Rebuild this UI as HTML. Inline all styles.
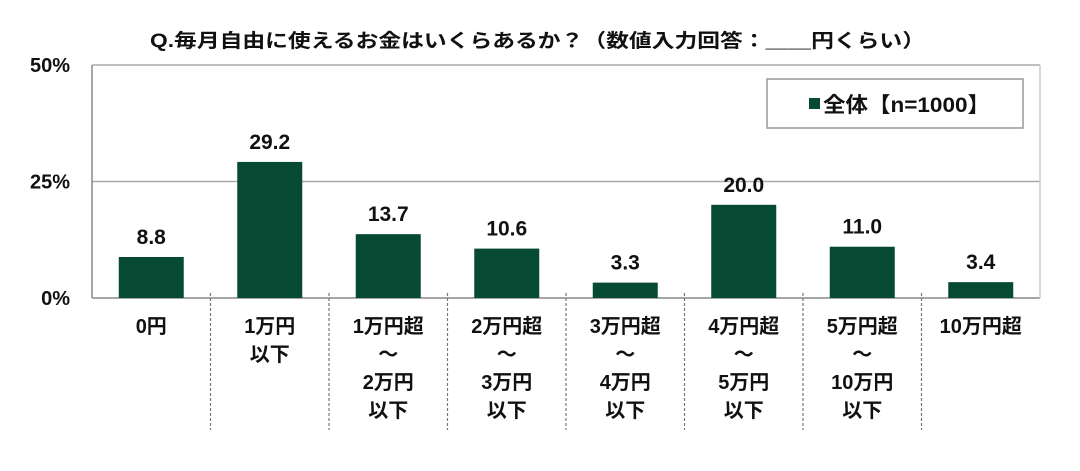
<!DOCTYPE html>
<html><head><meta charset="utf-8"><style>
body{margin:0;background:#fff;width:1080px;height:466px;overflow:hidden;font-family:"Liberation Sans","Noto Sans CJK JP",sans-serif;}
</style></head><body>
<svg width="1080" height="466" id="chart" xmlns="http://www.w3.org/2000/svg">
<text x="150" y="47" font-size="19" font-weight="bold" fill="#111" textLength="775" lengthAdjust="spacingAndGlyphs">Q.毎月自由に使えるお金はいくらあるか？（数値入力回答：＿＿円くらい）</text>
<g id="grid"></g><g id="bars"></g><g id="labels"></g>
<g>
<rect x="767" y="79" width="256" height="49" fill="#fff" stroke="#999" stroke-width="1.5"/>
<rect x="809" y="98" width="11" height="11" fill="#064a33"/>
<text x="823" y="112" font-size="21" font-weight="bold" fill="#111" textLength="167" lengthAdjust="spacingAndGlyphs">全体【n=1000】</text>
</g>
</svg>
<script>
const categories=[["0円"],["1万円","以下"],["1万円超","～","2万円","以下"],["2万円超","～","3万円","以下"],["3万円超","～","4万円","以下"],["4万円超","～","5万円","以下"],["5万円超","～","10万円","以下"],["10万円超"]];
const values=[8.8,29.2,13.7,10.6,3.3,20.0,11.0,3.4];
const valueLabels=["8.8","29.2","13.7","10.6","3.3","20.0","11.0","3.4"];
const ticks=[0,25,50];
const tickLabels=["0%","25%","50%"];
const NS="http://www.w3.org/2000/svg";
const L=92,R=1040,T=65,B=298,yMax=50;
const y=v=>B-(v/yMax)*(B-T);
const bw=(R-L)/categories.length;
const x=i=>L+bw*i;
function mk(tag,attrs,parent,txt){const e=document.createElementNS(NS,tag);for(const k in attrs)e.setAttribute(k,attrs[k]);if(txt!==undefined)e.textContent=txt;document.getElementById(parent).appendChild(e);return e;}
ticks.forEach((t,i)=>{
 const g=mk('line',{x1:L,x2:R,y1:y(t),y2:y(t),stroke:t===0?'#888':'#aaa','stroke-width':1.5},'grid');
 
 
 const tl=mk('text',{x:70,y:y(t)+7,'text-anchor':'end','font-size':20,'font-weight':'bold',fill:'#111'},'grid',tickLabels[i]);
 
 
});
const ax=mk('line',{x1:L,x2:L,y1:T,y2:B,stroke:'#888','stroke-width':1.5},'grid');


const rb=mk('line',{x1:R,x2:R,y1:T,y2:B,stroke:'#ccc','stroke-width':1.5},'grid');


for(let i=1;i<categories.length;i++){
 const s=mk('line',{x1:x(i),x2:x(i),y1:B-5,y2:430,stroke:'#777','stroke-width':1.2,'stroke-dasharray':'3,2'},'grid');
 
 
}
values.forEach((v,i)=>{
 const cx=x(i)+bw/2;
 const r=mk('rect',{x:cx-32.5,y:y(v),width:65,height:B-y(v),fill:'#064a33'},'bars');
 
 
 const t=mk('text',{x:cx,y:y(v)-13,'text-anchor':'middle','font-size':21,'font-weight':'bold',fill:'#111'},'labels',valueLabels[i]);
 
 
 categories[i].forEach((line,j)=>{
  const c=mk('text',{x:cx,y:333+j*28,'text-anchor':'middle','font-size':20,'font-weight':'bold',fill:'#111'},'labels',line);
  
  
 });
});
</script>
</body></html>
